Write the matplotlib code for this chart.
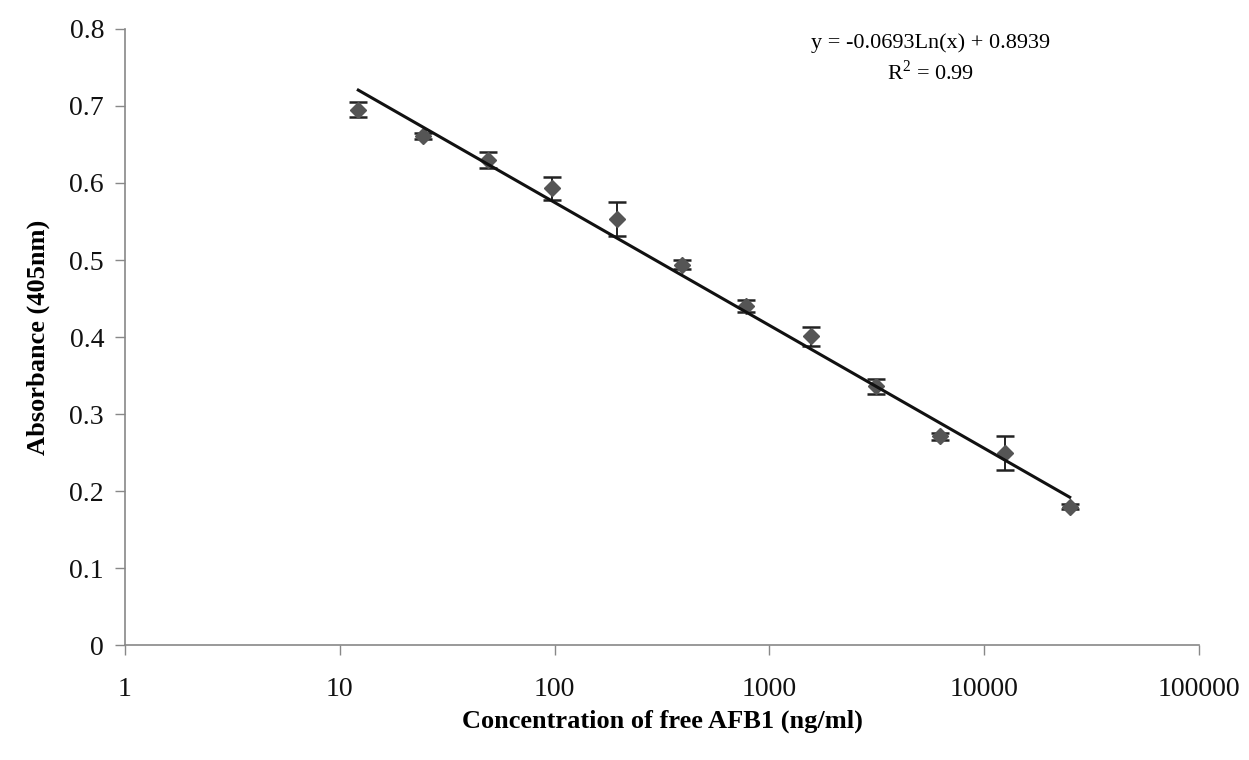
import matplotlib
matplotlib.use("Agg")
import matplotlib.pyplot as plt
import numpy as np

plt.rcParams['font.family'] = ['Liberation Serif', 'DejaVu Serif']

# AFB1 concentrations (two-fold dilution series, ng/ml)
conc = [12.2, 24.4, 48.8, 97.7, 195, 391, 781, 1562, 3125, 6250, 12500, 25000]
absorb = [0.695, 0.661, 0.630, 0.593, 0.553, 0.494, 0.440, 0.401, 0.336, 0.271, 0.250, 0.180]
err = [0.010, 0.004, 0.010, 0.015, 0.022, 0.006, 0.008, 0.012, 0.010, 0.004, 0.022, 0.003]

# logarithmic fit reported on the chart
slope = -0.0693
intercept = 0.8939

fig = plt.figure(figsize=(12.49, 7.6), dpi=100)
ax = fig.add_axes([0.1, 0.151, 0.86, 0.811])

ax.errorbar(conc, absorb, yerr=err, fmt='D', color='#555555', ms=8.5,
            ecolor='#222222', elinewidth=1.4, capsize=6.5, capthick=1.8, zorder=3)

xf = np.geomspace(conc[0], conc[-1], 100)
ax.plot(xf, slope * np.log(xf) + intercept, color='#111111', lw=2.2, zorder=4)

ax.set_xscale('log')
ax.set_xlim(1, 100000)
ax.set_ylim(0, 0.8)
ax.set_xticks([1, 10, 100, 1000, 10000, 100000])
ax.set_xticklabels(['1', '10', '100', '1000', '10000', '100000'])
ax.xaxis.set_minor_locator(matplotlib.ticker.NullLocator())
ax.set_yticks([0, 0.1, 0.2, 0.3, 0.4, 0.5, 0.6, 0.7, 0.8])
ax.set_yticklabels(['0', '0.1', '0.2', '0.3', '0.4', '0.5', '0.6', '0.7', '0.8'])

for s in ['top', 'right']:
    ax.spines[s].set_visible(False)
for s in ['left', 'bottom']:
    ax.spines[s].set_color('#888888')
    ax.spines[s].set_linewidth(1.2)
ax.tick_params(axis='both', colors='#888888', labelcolor='#111111',
               labelsize=20, length=7, width=1.0)
ax.tick_params(axis='x', pad=16)
ax.tick_params(axis='y', pad=8)

ax.set_xlabel('Concentration of free AFB1 (ng/ml)', fontsize=19,
              fontweight='bold', labelpad=5)
ax.set_ylabel('Absorbance (405nm)', fontsize=19, fontweight='bold', labelpad=14)

ax.text(0.75, 0.977, 'y = -0.0693Ln(x) + 0.8939', transform=ax.transAxes,
        ha='center', va='center', fontsize=16)
ax.text(0.75, 0.930, r'R$^{\mathregular{2}}$ = 0.99', transform=ax.transAxes,
        ha='center', va='center', fontsize=16)

fig.savefig('out.png', dpi=100)
